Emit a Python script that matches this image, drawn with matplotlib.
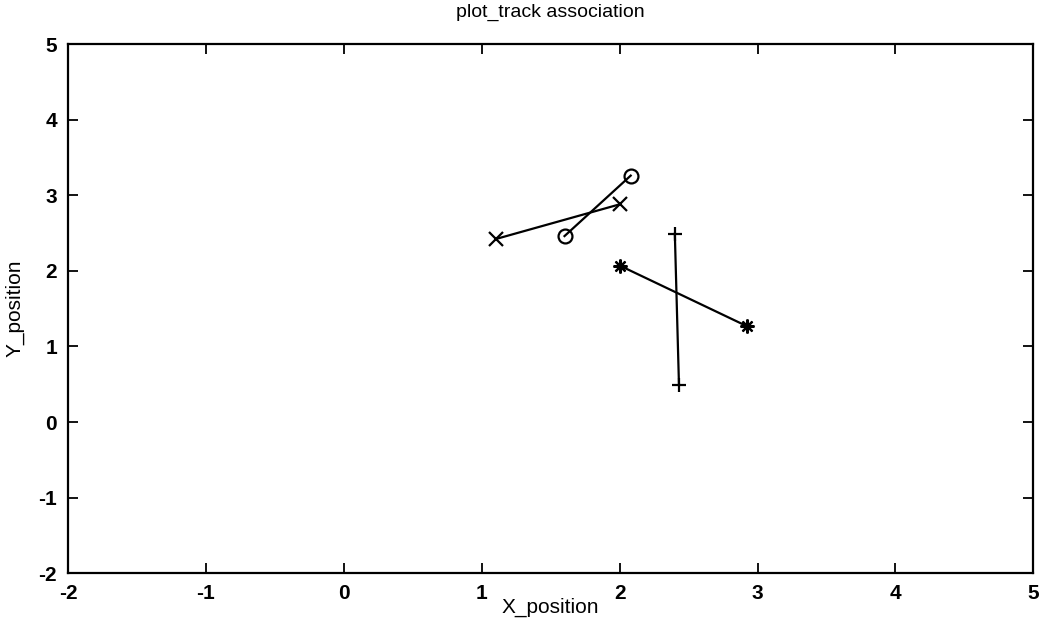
import matplotlib
matplotlib.use("Agg")
import matplotlib.pyplot as plt

# track segments: (x_start, x_end), (y_start, y_end)
track_x_x = [1.10, 2.00]
track_x_y = [2.42, 2.88]
track_o_x = [1.60, 2.08]
track_o_y = [2.46, 3.26]
track_star_x = [2.00, 2.92]
track_star_y = [2.07, 1.27]
track_plus_x = [2.40, 2.43]
track_plus_y = [2.49, 0.49]

x_ticks = [-2, -1, 0, 1, 2, 3, 4, 5]
y_ticks = [-2, -1, 0, 1, 2, 3, 4, 5]

plt.rcParams['font.family'] = ['Liberation Sans', 'DejaVu Sans']
plt.rcParams['axes.unicode_minus'] = False

fig = plt.figure(figsize=(10.47, 6.21), dpi=100)
ax = fig.add_axes([0.065, 0.077, 0.922, 0.852])

style = dict(color='black', linewidth=1.6, markersize=10,
             markerfacecolor='none', markeredgecolor='black', markeredgewidth=1.6)
ax.plot(track_x_x, track_x_y, marker='x', **style)
ax.plot(track_o_x, track_o_y, marker='o', **style)
ax.plot(track_star_x, track_star_y, marker=(8, 2, 0), **style)
ax.plot(track_plus_x, track_plus_y, marker='+', **style)

ax.set_xlim(-2, 5)
ax.set_ylim(-2, 5)
ax.set_xticks(x_ticks)
ax.set_yticks(y_ticks)
ax.tick_params(direction='in', top=True, right=True, length=7, width=1.3,
               labelsize=15, pad=8)
for lab in ax.get_xticklabels() + ax.get_yticklabels():
    lab.set_fontweight('bold')
for sp in ax.spines.values():
    sp.set_linewidth(1.6)

ax.set_title('plot_track association', fontsize=14, pad=20)
ax.set_xlabel('X_position', fontsize=15, labelpad=-4)
ax.set_ylabel('Y_position', fontsize=15, labelpad=10)

fig.savefig('out.png', dpi=100)
